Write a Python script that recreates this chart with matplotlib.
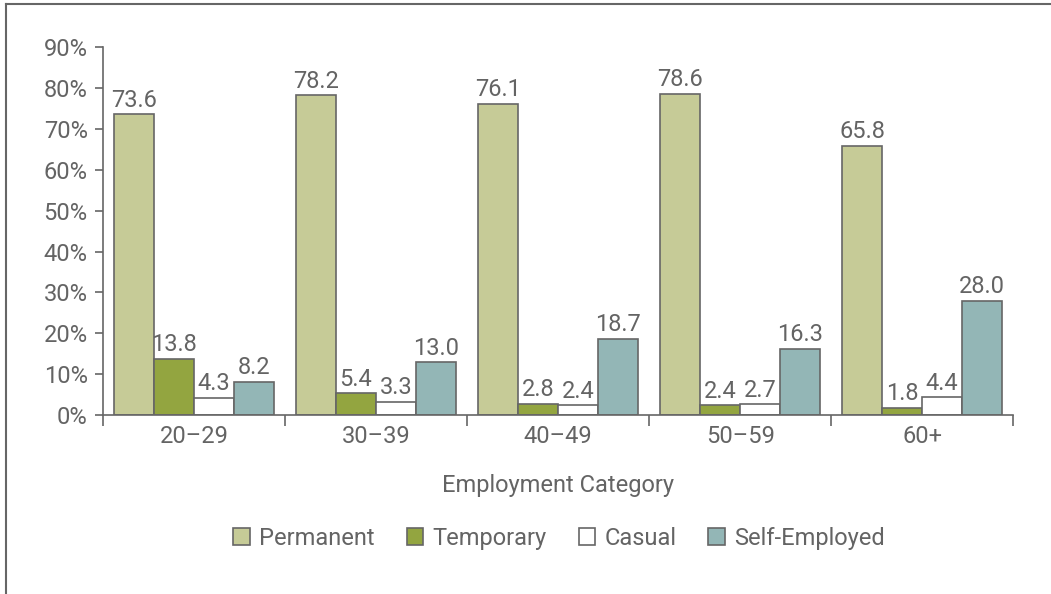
import numpy as np
import matplotlib
matplotlib.use("Agg")
import matplotlib.pyplot as plt
from matplotlib.lines import Line2D
from matplotlib.patches import Patch

plt.rcParams['font.family'] = ['Roboto', 'DejaVu Sans']

age_groups = ["20–29", "30–39", "40–49", "50–59", "60+"]
series_names = ["Permanent", "Temporary", "Casual", "Self-Employed"]
permanent = [73.6, 78.2, 76.1, 78.6, 65.8]
temporary = [13.8, 5.4, 2.8, 2.4, 1.8]
casual = [4.3, 3.3, 2.4, 2.7, 4.4]
self_employed = [8.2, 13.0, 18.7, 16.3, 28.0]

colors = ["#c6cb97", "#93a540", "#ffffff", "#93b6b6"]
edge = "#666666"
text_col = "#646464"
fs = 17

fig = plt.figure(figsize=(10.51, 5.94), dpi=100)
ax = fig.add_axes([0.098, 0.301, 0.866, 0.62])

x = np.arange(len(age_groups))
w = 0.22
for i, vals in enumerate([permanent, temporary, casual, self_employed]):
    pos = x + (i - 1.5) * w
    bars = ax.bar(pos, vals, w, color=colors[i], edgecolor=edge, linewidth=1.2,
                  label=series_names[i], zorder=2)
    for b, v in zip(bars, vals):
        ax.text(b.get_x() + b.get_width() / 2, v + 0.6, f"{v:.1f}",
                ha="center", va="bottom", fontsize=fs, color=text_col)

ax.set_xlim(-0.5, len(age_groups) - 0.5)
ax.set_ylim(0, 90)
ax.set_yticks(range(0, 91, 10))
ax.set_yticklabels([f"{t}%" for t in range(0, 91, 10)])
ax.set_xticks(x)
ax.set_xticklabels(age_groups)
ax.set_xticks(np.arange(-0.5, len(age_groups), 1), minor=True)

for s in ["top", "right"]:
    ax.spines[s].set_visible(False)
for s in ["left", "bottom"]:
    ax.spines[s].set_color(edge)
    ax.spines[s].set_linewidth(1.2)

ax.tick_params(axis="y", length=6, width=1.2, color=edge, labelsize=fs,
               labelcolor=text_col, pad=5)
ax.tick_params(axis="x", which="major", length=0, labelsize=fs,
               labelcolor=text_col, pad=7)
ax.tick_params(axis="x", which="minor", length=8, width=1.2, color=edge)

ax.set_xlabel("Employment Category", fontsize=fs, color=text_col, labelpad=19)

handles = [Patch(facecolor=c, edgecolor=edge, linewidth=1.2) for c in colors]
fig.legend(handles, series_names, loc="center", bbox_to_anchor=(0.532, 0.094),
           ncol=4, frameon=False, fontsize=fs, labelcolor=text_col,
           handlelength=0.7, handleheight=0.7, handletextpad=0.4,
           columnspacing=1.35)

# partial frame around the figure
fig.add_artist(Line2D([0.0057, 1.0], [0.993, 0.993], color="#666666", lw=1.5,
                      transform=fig.transFigure))
fig.add_artist(Line2D([0.0057, 0.0057], [0.0, 0.993], color="#666666", lw=1.5,
                      transform=fig.transFigure))

fig.savefig("out.png", dpi=100)
